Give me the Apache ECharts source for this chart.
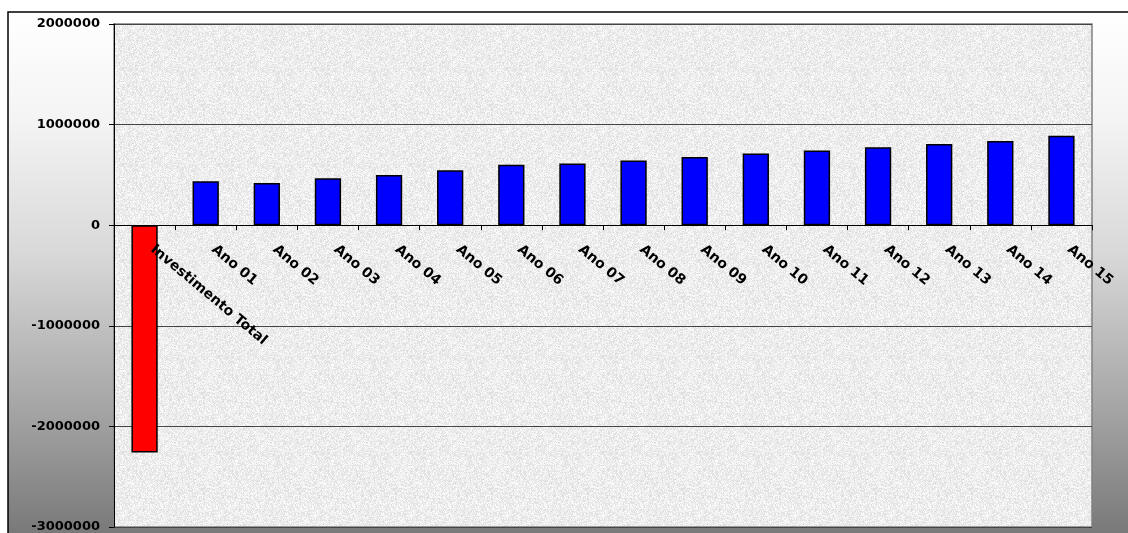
<!DOCTYPE html>
<html>
<head>
<meta charset="utf-8">
<script src="https://cdn.jsdelivr.net/npm/echarts@6/dist/echarts.min.js"></script>
<style>
  html, body { margin: 0; padding: 0; background: #fff; }
  #chart { width: 1128px; height: 533px; }
</style>
</head>
<body>
<div id="chart"></div>
<script>
const categories = ['Investimento Total', 'Ano 01', 'Ano 02', 'Ano 03', 'Ano 04', 'Ano 05',
  'Ano 06', 'Ano 07', 'Ano 08', 'Ano 09', 'Ano 10', 'Ano 11', 'Ano 12', 'Ano 13', 'Ano 14', 'Ano 15'];
const values = [-2260000, 437000, 420000, 467000, 500000, 547000, 600000, 613000, 643000,
  679000, 713000, 742000, 775000, 808000, 838000, 888000];
const yTicks = { min: -3000000, max: 2000000, interval: 1000000 };

// plot area box
const gridBox = { left: 114, top: 24, right: 36, bottom: 6 };
const gridHeight = 533 - gridBox.top - gridBox.bottom;
// category axis sits on the zero line: move it up from the bottom edge
const zeroOffset = -gridHeight * (0 - yTicks.min) / (yTicks.max - yTicks.min);

// light grey speckled texture for the plot area (deterministic hash, styling only)
const makeTexture = () => {
  const c = document.createElement('canvas');
  c.width = 96; c.height = 96;
  const ctx = c.getContext('2d');
  const img = ctx.createImageData(96, 96);
  let s = 12345;
  const next = () => { s = (s * 1103515245 + 12345) & 0x7fffffff; return s / 0x7fffffff; };
  for (let i = 0; i < 96 * 96; i++) {
    const v = Math.round(220 + next() * 34);
    img.data[i * 4] = v; img.data[i * 4 + 1] = v; img.data[i * 4 + 2] = v; img.data[i * 4 + 3] = 255;
  }
  ctx.putImageData(img, 0, 0);
  return c;
};

const myChart = echarts.init(document.getElementById('chart'));
const labelFont = { fontFamily: 'DejaVu Sans', fontWeight: 'bold', color: '#000' };

const option = {
  backgroundColor: '#ffffff',
  animation: false,
  graphic: [
    {
      type: 'rect',
      z: -10,
      shape: { x: 8, y: 12, width: 1140, height: 540 },
      style: {
        fill: new echarts.graphic.LinearGradient(0, 0, 0, 1, [
          { offset: 0, color: '#ffffff' },
          { offset: 0.2, color: '#f4f4f4' },
          { offset: 0.45, color: '#d8d8d8' },
          { offset: 0.75, color: '#a2a2a2' },
          { offset: 1, color: '#727272' }
        ]),
        stroke: '#000',
        lineWidth: 1.5
      }
    }
  ],
  grid: {
    ...gridBox,
    containLabel: false,
    outerBoundsMode: 'none',
    show: true,
    backgroundColor: { image: makeTexture(), repeat: 'repeat' },
    borderColor: '#808080',
    borderWidth: 1.5
  },
  xAxis: {
    type: 'category',
    data: categories,
    position: 'bottom',
    offset: zeroOffset,
    z: 5,
    axisLine: { onZero: false, lineStyle: { color: '#000', width: 1 } },
    axisTick: { show: true, alignWithLabel: false, length: 5, lineStyle: { color: '#000' } },
    axisLabel: { ...labelFont, fontSize: 14, rotate: -40, margin: 16, padding: [0, 0, 0, 10], interval: 0 }
  },
  yAxis: {
    type: 'value',
    min: yTicks.min, max: yTicks.max, interval: yTicks.interval,
    axisLine: { show: true, lineStyle: { color: '#000', width: 1 } },
    axisTick: { show: true, length: 5, lineStyle: { color: '#000' } },
    axisLabel: { ...labelFont, fontSize: 13, margin: 14, formatter: (v) => String(v) },
    splitLine: { show: true, lineStyle: { color: '#444', width: 1 } }
  },
  series: [
    {
      type: 'bar',
      barWidth: '43%',
      data: values.map((v) => ({
        value: v,
        itemStyle: { color: v < 0 ? '#ff0000' : '#0000ff' }
      })),
      itemStyle: { borderColor: '#000', borderWidth: 1.5 }
    }
  ]
};
myChart.setOption(option);
</script>
</body>
</html>
